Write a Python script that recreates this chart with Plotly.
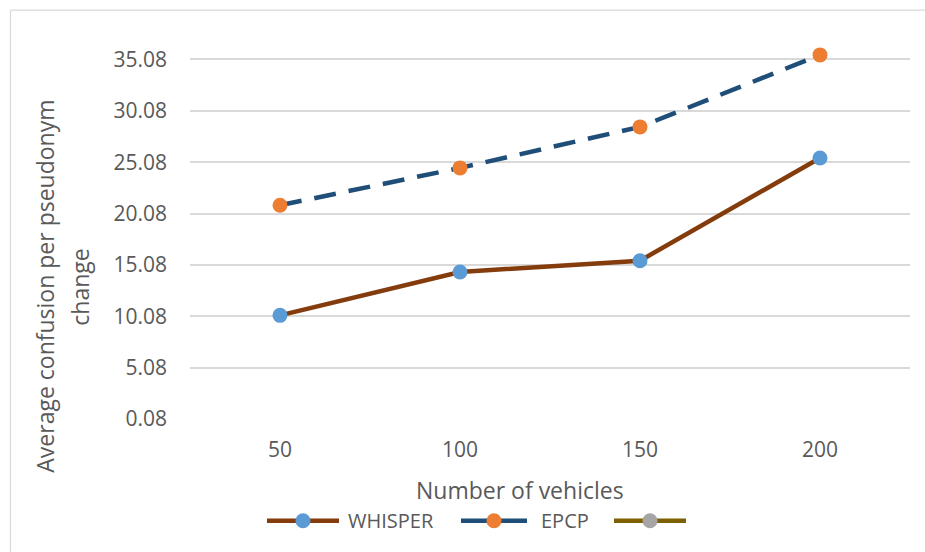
import plotly.graph_objects as go

# Chart data
vehicles = ["50", "100", "150", "200"]
whisper = [10.17, 14.39, 15.49, 25.49]
epcp = [20.88, 24.52, 28.51, 35.52]
y_ticks = [0.08, 5.08, 10.08, 15.08, 20.08, 25.08, 30.08, 35.08]
series_names = ["WHISPER", "EPCP", ""]

W, H = 925, 552
Y_TOP = 36.58                     # axis top, a little above the last gridline
PX_PER_UNIT = (419.3 - 59.7) / 35.0
BOTTOM_PX = 419.3
L, R = 190, 15
T = BOTTOM_PX - (Y_TOP - y_ticks[0]) * PX_PER_UNIT
B = H - BOTTOM_PX

FONT = "Open Sans"
GREY_TXT = "#595959"
GRID = "#D9D9D9"

line_cols = ["#843C0C", "#1F4E79", "#7F6000"]
mark_cols = ["#5B9BD5", "#ED7D31", "#A5A5A5"]
dashes = ["solid", "22px,13px", "solid"]

def px_x(x):
    return (x - L) / (W - L - R)

def px_y(y):
    return (H - B - y) / (H - T - B)

fig = go.Figure()
for name, vals, lc, mc, ds in zip(series_names[:2], [whisper, epcp], line_cols, mark_cols, dashes):
    fig.add_trace(go.Scatter(
        x=vehicles, y=vals, name=name, mode="lines+markers",
        line=dict(color=lc, width=4.5, dash=ds),
        marker=dict(color=mc, size=15, line=dict(width=0)),
        cliponaxis=False, showlegend=False,
    ))

shapes = [
    # chart frame (top and left edges)
    dict(type="line", xref="paper", yref="paper",
         x0=px_x(10.5), x1=px_x(W + 5), y0=px_y(10.5), y1=px_y(10.5),
         line=dict(color=GRID, width=1.2), layer="below"),
    dict(type="line", xref="paper", yref="paper",
         x0=px_x(10.5), x1=px_x(10.5), y0=px_y(10.5), y1=px_y(H + 5),
         line=dict(color=GRID, width=1.2), layer="below"),
]
annotations = []

# legend row
leg_y = 521
leg_items = [(267, 339, 346), (461, 527, 539), (614, 686, None)]
for i, (x0, x1, tx) in enumerate(leg_items):
    shapes.append(dict(type="line", xref="paper", yref="paper",
                       x0=px_x(x0), x1=px_x(x1), y0=px_y(leg_y), y1=px_y(leg_y),
                       line=dict(color=line_cols[i], width=4.5)))
    cx = (x0 + x1) / 2
    r = 7.5
    shapes.append(dict(type="circle", xref="paper", yref="paper",
                       x0=px_x(cx - r), x1=px_x(cx + r), y0=px_y(leg_y - r), y1=px_y(leg_y + r),
                       fillcolor=mark_cols[i], line=dict(width=0)))
    if tx is not None and series_names[i]:
        annotations.append(dict(text=series_names[i], xref="paper", yref="paper",
                                x=px_x(tx), y=px_y(leg_y), xanchor="left", yanchor="middle",
                                showarrow=False, font=dict(family=FONT, size=20, color=GREY_TXT)))

# y-axis title on two lines
for txt, xc in [("Average confusion per pseudonym", 45), ("change", 80)]:
    annotations.append(dict(text=txt, xref="paper", yref="paper", textangle=-90,
                            x=px_x(xc), y=px_y(287), xanchor="center", yanchor="middle",
                            showarrow=False, font=dict(family=FONT, size=23, color=GREY_TXT)))

# x-axis title
annotations.append(dict(text="Number of vehicles", xref="paper", yref="paper",
                        x=px_x(520), y=px_y(490), xanchor="center", yanchor="middle",
                        showarrow=False, font=dict(family=FONT, size=23, color=GREY_TXT)))

fig.update_layout(
    width=W, height=H,
    margin=dict(l=L, r=R, t=T, b=B, pad=0),
    paper_bgcolor="white", plot_bgcolor="white",
    font=dict(family=FONT, size=20, color=GREY_TXT),
    shapes=shapes, annotations=annotations,
    showlegend=False,
)
fig.update_xaxes(
    type="category", range=[-0.5, 3.5], showgrid=False,
    showline=False, zeroline=False, ticks="",
    ticklabelstandoff=16, tickfont=dict(family=FONT, size=21, color=GREY_TXT),
)
fig.update_yaxes(
    range=[y_ticks[0], Y_TOP], tickvals=y_ticks,
    ticktext=[f"{v:.2f}" for v in y_ticks],
    showgrid=True, gridcolor=GRID, gridwidth=1.5,
    zeroline=False, showline=False, ticks="",
    ticklabelstandoff=22, tickfont=dict(family=FONT, size=21, color=GREY_TXT),
)

fig.write_html("out.html")
